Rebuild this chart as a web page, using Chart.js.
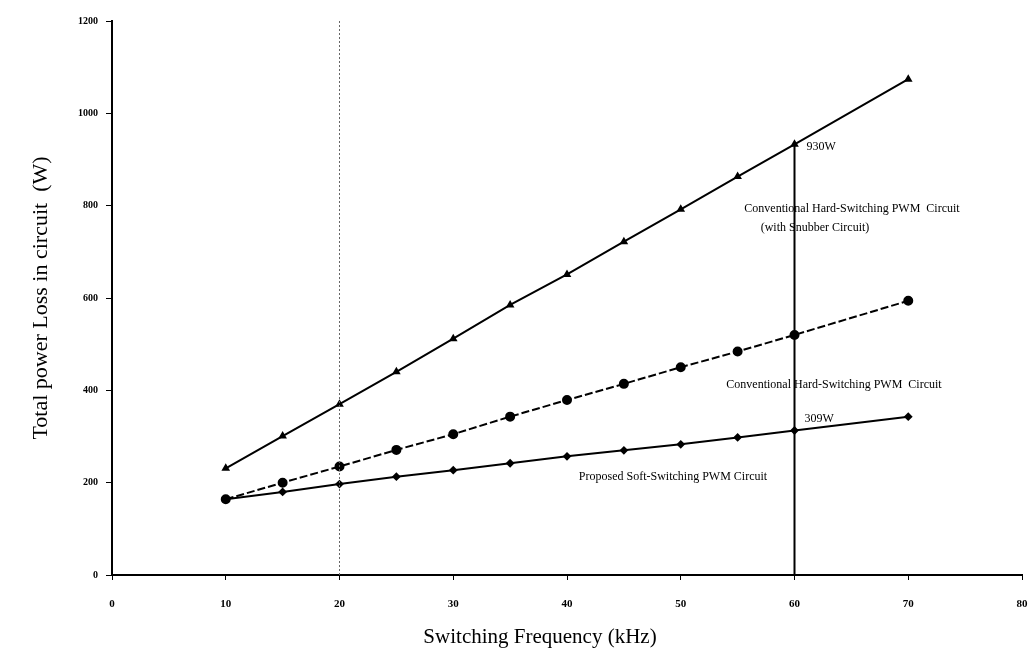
<!DOCTYPE html>
<html>
<head>
<meta charset="utf-8">
<script src="https://cdn.jsdelivr.net/npm/chart.js@4/dist/chart.umd.min.js"></script>
<style>
  html, body { margin: 0; padding: 0; background: #fff; }
  #wrap { width: 1035px; height: 659px; }
</style>
</head>
<body>
<div id="wrap"><canvas id="lossChart"></canvas></div>
<script>
// switching frequency (kHz), no point at 65
const freqs = [10, 15, 20, 25, 30, 35, 40, 45, 50, 55, 60, 70];
const snubberLoss = [231, 301, 370, 440, 512, 585, 651, 722, 792, 863, 933, 1074];
const hardLoss = [164, 200, 235, 271, 305, 343, 379, 414, 450, 484, 520, 594];
const softLoss = [164, 180, 197, 213, 227, 242, 257, 270, 283, 298, 313, 343];

const xTicks = [0, 10, 20, 30, 40, 50, 60, 70, 80];
const yTicks = [0, 200, 400, 600, 800, 1000, 1200];

const markFreq = 60;   // solid drop line
const refFreq = 20;    // dotted line
const markLabels = ['930W', '309W'];

function toPoints(vals) {
  return freqs.map((f, i) => ({ x: f, y: vals[i] }));
}

const serif = '"Liberation Serif", "DejaVu Serif", serif';

// texts and guide lines drawn on top of the plot
const notes = {
  id: 'notes',
  afterDatasetsDraw(chart) {
    const ctx = chart.ctx;
    const xs = chart.scales.x, ys = chart.scales.y;
    const area = chart.chartArea;
    const i60 = freqs.indexOf(markFreq);

    ctx.save();
    // dotted vertical at 20 kHz
    ctx.strokeStyle = '#666';
    ctx.lineWidth = 1;
    ctx.setLineDash([2, 2]);
    ctx.beginPath();
    ctx.moveTo(xs.getPixelForValue(refFreq), area.top);
    ctx.lineTo(xs.getPixelForValue(refFreq), area.bottom);
    ctx.stroke();

    // solid drop line at 60 kHz
    ctx.setLineDash([]);
    ctx.strokeStyle = '#000';
    ctx.lineWidth = 2;
    ctx.beginPath();
    ctx.moveTo(xs.getPixelForValue(markFreq), ys.getPixelForValue(snubberLoss[i60]));
    ctx.lineTo(xs.getPixelForValue(markFreq), ys.getPixelForValue(0));
    ctx.stroke();

    ctx.fillStyle = '#000';
    ctx.font = '12px ' + serif;
    ctx.textBaseline = 'middle';
    ctx.textAlign = 'left';
    const x60 = xs.getPixelForValue(markFreq);
    ctx.fillText(markLabels[0], x60 + 12, ys.getPixelForValue(snubberLoss[i60]) + 3);
    ctx.fillText(markLabels[1], x60 + 10, ys.getPixelForValue(softLoss[i60]) - 12);

    ctx.textAlign = 'center';
    ctx.fillText('Conventional Hard-Switching PWM  Circuit', 852, 209);
    ctx.fillText('(with Snubber Circuit)', 815, 228);
    ctx.fillText('Conventional Hard-Switching PWM  Circuit', 834, 385);
    ctx.fillText('Proposed Soft-Switching PWM Circuit', 673, 477);

    // x axis title
    ctx.font = '21px ' + serif;
    ctx.fillText('Switching Frequency (kHz)', 540, 637);
    ctx.restore();
  }
};

const ctx = document.getElementById('lossChart').getContext('2d');
const lossChart = new Chart(ctx, {
  type: 'line',
  data: {
    datasets: [{
      label: 'Conventional Hard-Switching PWM Circuit (with Snubber Circuit)',
      data: toPoints(snubberLoss),
      borderColor: '#000',
      backgroundColor: '#000',
      borderWidth: 2,
      pointStyle: 'triangle',
      pointRadius: 3
    },
    {
      label: 'Conventional Hard-Switching PWM Circuit',
      data: toPoints(hardLoss),
      borderColor: '#000',
      backgroundColor: '#000',
      borderWidth: 2,
      borderDash: [8, 3],
      pointStyle: 'circle',
      pointRadius: 4
    },
    {
      label: 'Proposed Soft-Switching PWM Circuit',
      data: toPoints(softLoss),
      borderColor: '#000',
      backgroundColor: '#000',
      borderWidth: 2,
      pointStyle: 'rectRot',
      pointRadius: 3
    }]
  },
  options: {
    responsive: true,
    maintainAspectRatio: false,
    animation: false,
    layout: { padding: { top: 21, right: 13, left: 0, bottom: 0 } },
    plugins: {
      legend: { display: false },
      tooltip: { enabled: false }
    },
    scales: {
      x: {
        type: 'linear',
        min: 0,
        max: 80,
        afterBuildTicks(scale) {
          scale.ticks = xTicks.map(v => ({ value: v }));
        },
        afterFit(scale) {
          scale.height = 84;
          scale.paddingRight = 0;
        },
        grid: { drawOnChartArea: false, color: '#000', tickLength: 5 },
        border: { color: '#000', width: 2 },
        ticks: {
          color: '#000',
          padding: 18,
          font: { family: serif, size: 11, weight: 'bold' }
        }
      },
      y: {
        min: 0,
        max: 1200,
        afterBuildTicks(scale) {
          scale.ticks = yTicks.map(v => ({ value: v }));
        },
        afterFit(scale) { scale.width = 112; },
        grid: { drawOnChartArea: false, color: '#000', tickLength: 6 },
        border: { color: '#000', width: 2 },
        ticks: {
          color: '#000',
          padding: 8,
          font: { family: serif, size: 10, weight: 'bold' },
          callback: v => String(v)
        },
        title: {
          display: true,
          text: 'Total power Loss in circuit  (W)',
          color: '#000',
          font: { family: serif, size: 22 },
          padding: { bottom: 0, top: 28 }
        }
      }
    }
  },
  plugins: [notes]
});
</script>
</body>
</html>
